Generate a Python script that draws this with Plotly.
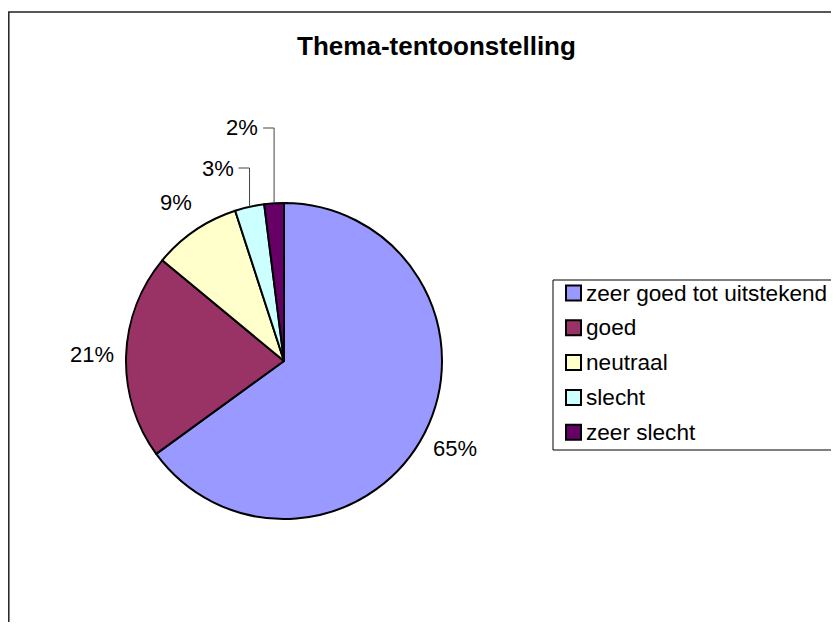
import math
import plotly.graph_objects as go

# ---- data ----
categories = ["zeer goed tot uitstekend", "goed", "neutraal", "slecht", "zeer slecht"]
percentages = [65, 21, 9, 3, 2]
colors = ["#9999FF", "#993366", "#FFFFCC", "#CCFFFF", "#660066"]
title_text = "Thema-tentoonstelling"

# ---- layout geometry (screen pixels; page body has an 8px offset) ----
OFF = 8
W, H = 839 - OFF, 630 - 2 * OFF
CX, CY, R = 284, 361, 158
FONT = "Liberation Sans, Arial, sans-serif"


def px(x):
    return (x - OFF) / W


def py(y):
    return 1 - (y - OFF) / H


fig = go.Figure()
fig.add_trace(go.Pie(
    labels=categories,
    values=percentages,
    marker=dict(colors=colors, line=dict(color="black", width=2)),
    sort=False,
    direction="clockwise",
    rotation=0,
    textinfo="none",
    hoverinfo="label+percent",
    showlegend=False,
    domain=dict(x=[px(CX - R), px(CX + R)], y=[py(CY + R), py(CY - R)]),
))

annotations = []
shapes = []

# percentage labels computed from the data
total = sum(percentages)
cum = 0
small_rank = 0
for v in percentages:
    mid = (cum + v / 2) / total * 2 * math.pi
    cum += v
    dx, dy = math.sin(mid), -math.cos(mid)
    txt = f"{round(v / total * 100)}%"
    if v / total < 0.05:
        ex, ey = CX + R * dx, CY + R * dy
        ly = CY - R - 35 - 40 * small_rank
        small_rank += 1
        shapes.append(dict(
            type="path", xref="paper", yref="paper",
            path=f"M {px(ex)},{py(ey)} L {px(ex)},{py(ly)} L {px(ex - 11)},{py(ly)}",
            line=dict(color="#444", width=1),
        ))
        annotations.append(dict(
            x=px(ex - 14), y=py(ly), xref="paper", yref="paper", text=txt,
            showarrow=False, xanchor="right", yanchor="middle",
            font=dict(family=FONT, size=22, color="black"),
        ))
    else:
        rr = R + 34
        annotations.append(dict(
            x=px(CX + rr * dx), y=py(CY + rr * dy), xref="paper", yref="paper",
            text=txt, showarrow=False, xanchor="center", yanchor="middle",
            font=dict(family=FONT, size=22, color="black"),
        ))

# legend (drawn manually to match the original spacing)
LX, LY, LSTEP = 553, 280, 34.8
shapes.append(dict(type="rect", xref="paper", yref="paper",
                   x0=px(LX), x1=px(850), y0=py(450), y1=py(LY),
                   line=dict(color="black", width=1), fillcolor="white",
                   layer="below"))
for i, (cat, col) in enumerate(zip(categories, colors)):
    yc = LY + 13 + LSTEP * i
    shapes.append(dict(type="rect", xref="paper", yref="paper",
                       x0=px(LX + 13), x1=px(LX + 28),
                       y0=py(yc + 7.5), y1=py(yc - 7.5),
                       line=dict(color="black", width=2), fillcolor=col))
    annotations.append(dict(
        x=px(LX + 31), y=py(yc), xref="paper", yref="paper", text=cat,
        showarrow=False, xanchor="left", yanchor="middle",
        font=dict(family=FONT, size=22.6, color="black"),
    ))

# outer chart frame
shapes.append(dict(type="rect", xref="paper", yref="paper",
                   x0=px(8.8), x1=1.05, y0=-0.05, y1=py(12),
                   line=dict(color="#222", width=1.5)))

fig.update_layout(
    width=W, height=H,
    margin=dict(l=0, r=0, t=0, b=0),
    paper_bgcolor="white", plot_bgcolor="white",
    title=dict(text=f"<b>{title_text}</b>", x=px(436.5), xanchor="center",
               y=py(46), yanchor="middle",
               font=dict(family=FONT, size=26, color="black")),
    showlegend=False,
    annotations=annotations,
    shapes=shapes,
    hovermode=False,
)

fig.write_html("out.html")
